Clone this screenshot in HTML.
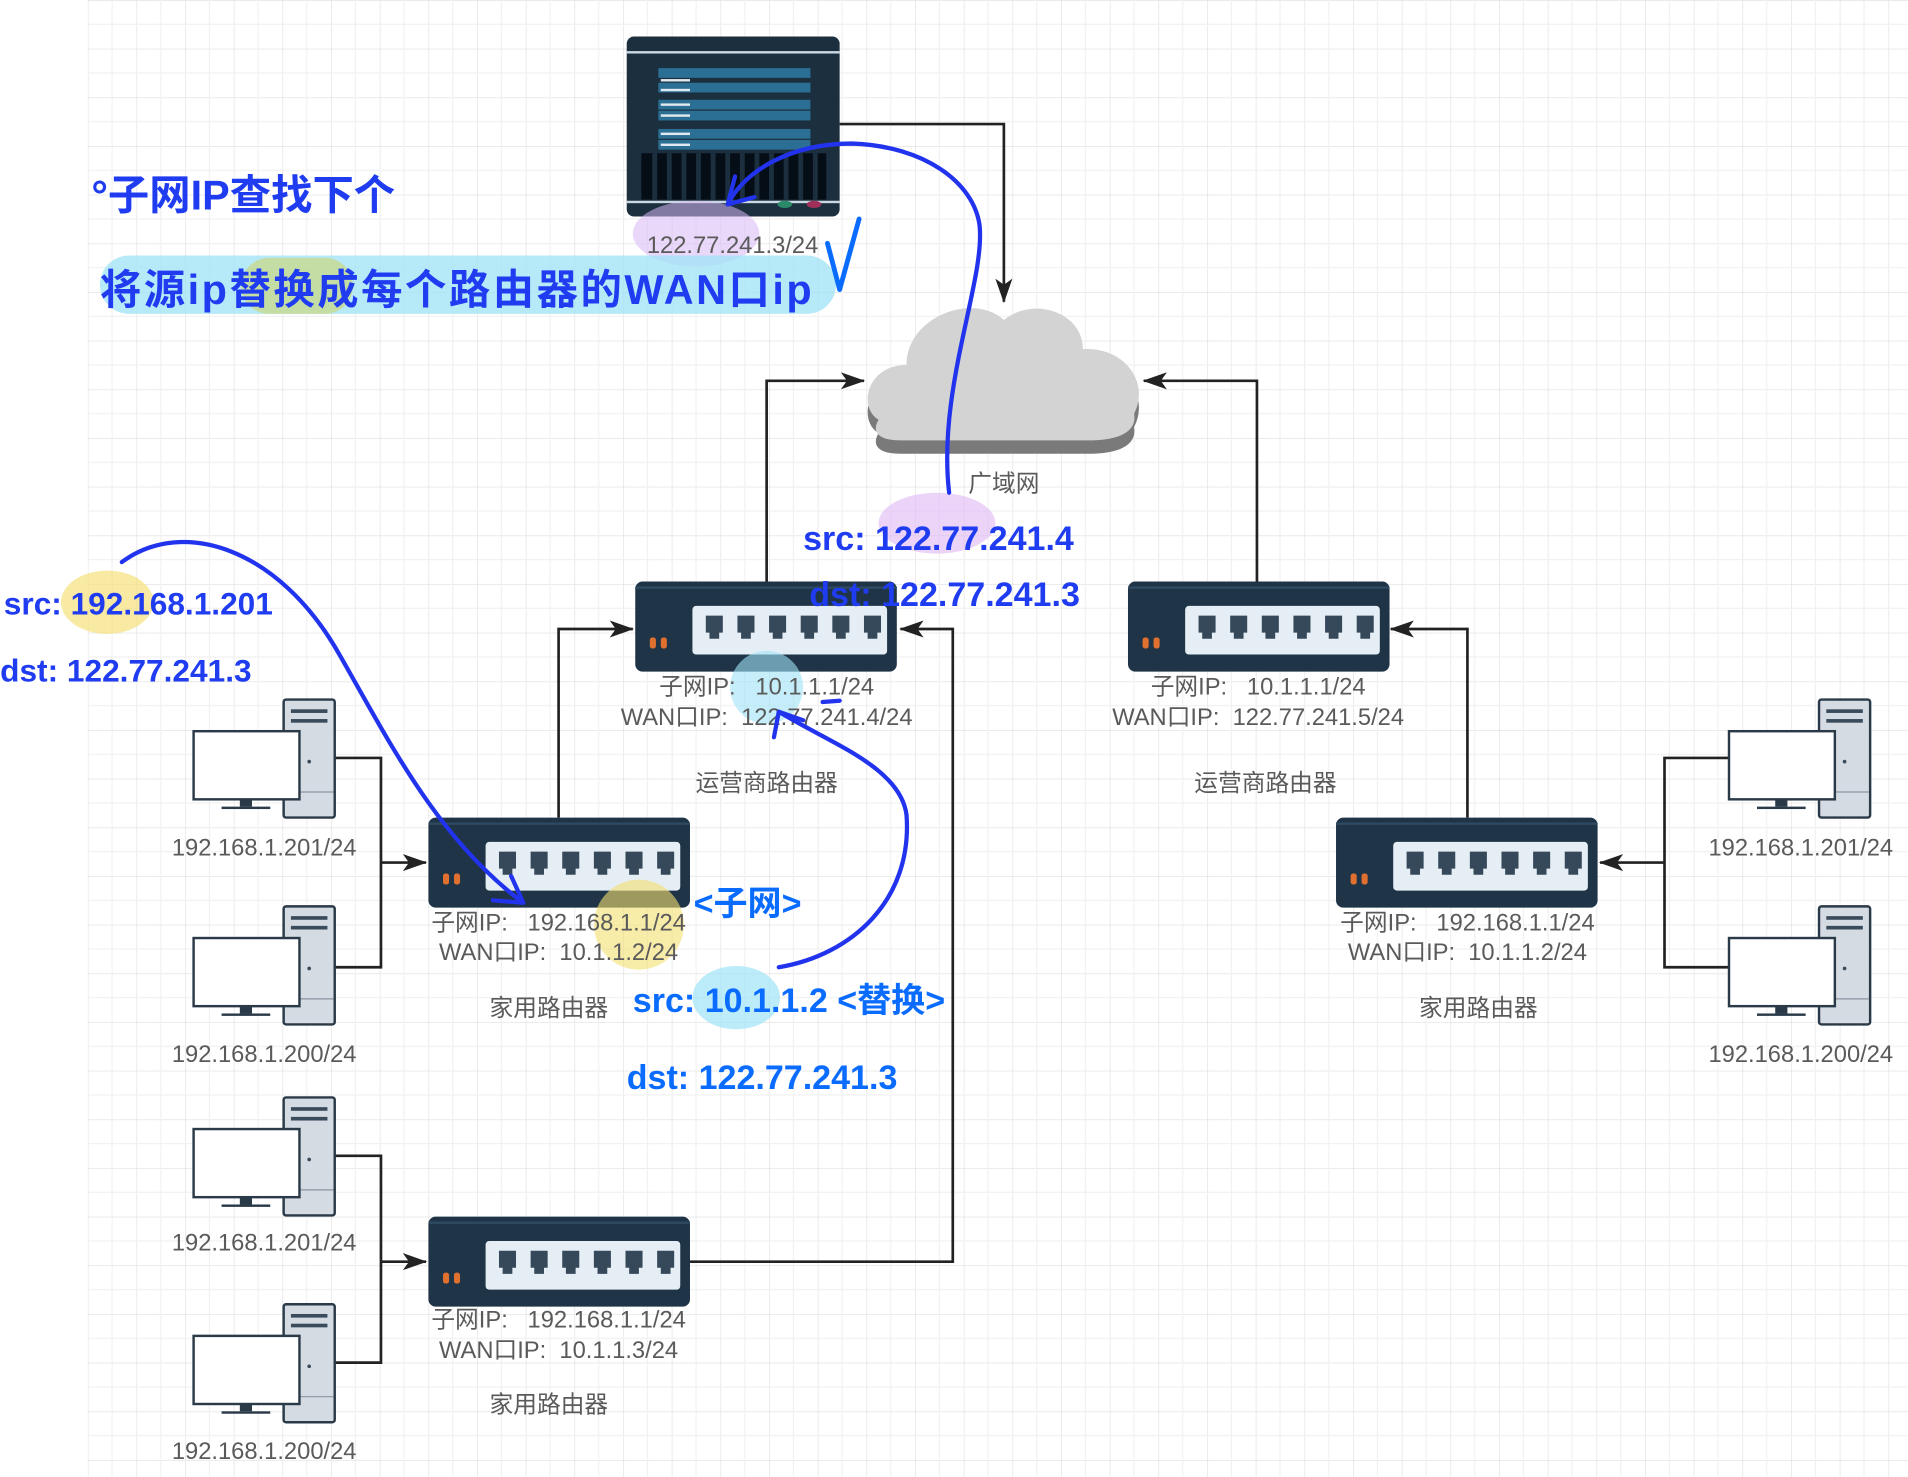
<!DOCTYPE html>
<html><head><meta charset="utf-8"><style>
html,body{margin:0;padding:0;background:#fff;}
svg{display:block;}
.lbl{font-family:"Liberation Sans","Noto Sans CJK SC",sans-serif;font-size:19.5px;fill:#5a5a5a;text-anchor:middle;white-space:pre;}
.hw{font-family:"Liberation Sans","Noto Sans CJK SC",sans-serif;fill:#1f3cf0;font-weight:bold;}
.hw2{font-family:"Liberation Sans","Noto Sans CJK SC",sans-serif;fill:#0a6cff;font-weight:bold;}
</style></head><body>
<svg width="1908" height="1477" viewBox="0 0 1568 1214" xmlns="http://www.w3.org/2000/svg">
<defs>
<pattern id="g" x="72" y="0" width="40" height="40" patternUnits="userSpaceOnUse">
<path d="M0 0H40M0 0V40" stroke="#e4e4e4" stroke-width="1.2" fill="none"/>
<path d="M20 0V40M0 20H40" stroke="#f1f1f1" stroke-width="1" fill="none"/>
</pattern>
<marker id="a2" viewBox="0 0 20 14" markerWidth="20" markerHeight="14" refX="19" refY="7" orient="auto" markerUnits="userSpaceOnUse"><path d="M0,0 L20,7 L0,14 L5,7 Z" fill="#222"/></marker>
<g id="router">
<rect x="0" y="0" width="215" height="74" rx="6" fill="#1f3447"/>
<rect x="0" y="4" width="215" height="2" fill="#2e4a60"/>
<rect x="47" y="20" width="160" height="40" rx="3" fill="#e6eef5"/>
<g fill="#36495a">
<path d="M58,28h14v14h-3v5h-8v-5h-3z"/><path d="M84,28h14v14h-3v5h-8v-5h-3z"/><path d="M110,28h14v14h-3v5h-8v-5h-3z"/><path d="M136,28h14v14h-3v5h-8v-5h-3z"/><path d="M162,28h14v14h-3v5h-8v-5h-3z"/><path d="M188,28h14v14h-3v5h-8v-5h-3z"/>
</g>
<rect x="12" y="46" width="5" height="9" rx="2" fill="#e07030"/><rect x="21" y="46" width="5" height="9" rx="2" fill="#e07030"/>
</g>
<g id="pc">
<rect x="233" y="575" width="42" height="97" rx="2" fill="#d4dbe2" stroke="#2b3a48" stroke-width="2"/>
<rect x="239" y="583" width="30" height="3" fill="#3a4b5c"/><rect x="239" y="591" width="30" height="3" fill="#3a4b5c"/>
<line x1="234" y1="651" x2="274" y2="651" stroke="#8a96a2"/>
<circle cx="254" cy="626" r="1.5" fill="#3a4b5c"/>
<rect x="159" y="601" width="87" height="56" fill="#fff" stroke="#2b3a48" stroke-width="2"/>
<rect x="197" y="657" width="10" height="6" fill="#2b3a48"/><rect x="182" y="663" width="40" height="2" fill="#2b3a48"/>
</g>
</defs>
<rect width="1568" height="1214" fill="#fff"/>
<rect x="72" y="0" width="1496" height="1214" fill="url(#g)"/>

<!-- server -->
<rect x="515" y="30" width="175" height="148" rx="6" fill="#1c2f3e"/>
<rect x="515" y="42" width="175" height="2" fill="#c9d8e2"/>
<g fill="#2c6f95"><rect x="541" y="56" width="125" height="8"/><rect x="541" y="68" width="125" height="8"/><rect x="541" y="82" width="125" height="8"/><rect x="541" y="91" width="125" height="8"/><rect x="541" y="106" width="125" height="8"/><rect x="541" y="115" width="125" height="8"/></g>
<g fill="#dfe9ef"><rect x="543" y="65" width="24" height="2"/><rect x="543" y="73" width="24" height="2"/><rect x="543" y="85" width="24" height="2"/><rect x="543" y="94" width="24" height="2"/><rect x="543" y="109" width="24" height="2"/><rect x="543" y="118" width="24" height="2"/></g>
<rect x="527" y="126" width="152" height="38" fill="#050d16"/>
<g stroke="#1c2f3e" stroke-width="4"><line x1="538" y1="126" x2="538" y2="164"/><line x1="550" y1="126" x2="550" y2="164"/><line x1="562" y1="126" x2="562" y2="164"/><line x1="574" y1="126" x2="574" y2="164"/><line x1="586" y1="126" x2="586" y2="164"/><line x1="598" y1="126" x2="598" y2="164"/><line x1="610" y1="126" x2="610" y2="164"/><line x1="622" y1="126" x2="622" y2="164"/><line x1="634" y1="126" x2="634" y2="164"/><line x1="646" y1="126" x2="646" y2="164"/><line x1="658" y1="126" x2="658" y2="164"/><line x1="670" y1="126" x2="670" y2="164"/></g>
<rect x="515" y="165" width="175" height="2" fill="#c9d8e2"/>
<ellipse cx="645" cy="168" rx="6" ry="3" fill="#2a8a6a"/>
<ellipse cx="669" cy="168" rx="6" ry="3" fill="#a0305a"/>
<ellipse cx="572" cy="192" rx="52" ry="27" fill="#d9b8f5" opacity="0.55"/>
<text class="lbl" x="602" y="208">122.77.241.3/24</text>

<!-- cloud -->
<g transform="translate(0,6)" fill="#7a7a7a">
<path d="M722,350 C705,340 712,305 745,305 C745,265 800,245 825,268 C850,248 890,262 890,292 C925,290 945,320 932,345 C935,362 915,367 895,367 L740,367 C722,367 716,360 722,350Z"/>
</g>
<path d="M722,345 C705,335 712,300 745,300 C745,260 800,240 825,263 C850,243 890,257 890,287 C925,285 945,315 932,340 C935,357 915,362 895,362 L740,362 C722,362 716,355 722,345Z" fill="#d3d3d3"/>
<text class="lbl" x="825" y="404">广域网</text>

<!-- connectors -->
<g fill="none" stroke="#222" stroke-width="2.2">
<path d="M690,102H825V248" marker-end="url(#a2)"/>
<path d="M630,478V313H710" marker-end="url(#a2)"/>
<path d="M1033,478V313H940" marker-end="url(#a2)"/>
<path d="M459,672V517H520" marker-end="url(#a2)"/>
<path d="M567,1037H783V517H740" marker-end="url(#a2)"/>
<path d="M1206,672V517H1143" marker-end="url(#a2)"/>
<path d="M275,623H313V795H275M313,709H350" marker-end="url(#a2)"/>
<path d="M275,950H313V1120H275M313,1037H350" marker-end="url(#a2)"/>
<path d="M1422,623H1368V795H1422M1368,709H1315" marker-end="url(#a2)"/>
</g>

<!-- routers -->
<use href="#router" x="522" y="478"/>
<use href="#router" x="927" y="478"/>
<use href="#router" x="352" y="672"/>
<use href="#router" x="352" y="1000"/>
<use href="#router" x="1098" y="672"/>

<!-- highlights -->
<circle cx="630" cy="565" r="30" fill="#9fe3f7" opacity="0.6"/>
<circle cx="525" cy="760" r="37" fill="#f4df70" opacity="0.6"/>

<text class="lbl" x="630" y="571">子网IP:   10.1.1.1/24</text>
<text class="lbl" x="630" y="596">WAN口IP:  122.77.241.4/24</text>
<text class="lbl" x="630" y="650">运营商路由器</text>
<text class="lbl" x="1034" y="571">子网IP:   10.1.1.1/24</text>
<text class="lbl" x="1034" y="596">WAN口IP:  122.77.241.5/24</text>
<text class="lbl" x="1040" y="650">运营商路由器</text>
<text class="lbl" x="459" y="765">子网IP:   192.168.1.1/24</text>
<text class="lbl" x="459" y="789">WAN口IP:  10.1.1.2/24</text>
<text class="lbl" x="451" y="835">家用路由器</text>
<text class="lbl" x="459" y="1091">子网IP:   192.168.1.1/24</text>
<text class="lbl" x="459" y="1116">WAN口IP:  10.1.1.3/24</text>
<text class="lbl" x="451" y="1161">家用路由器</text>
<text class="lbl" x="1206" y="765">子网IP:   192.168.1.1/24</text>
<text class="lbl" x="1206" y="789">WAN口IP:  10.1.1.2/24</text>
<text class="lbl" x="1215" y="835">家用路由器</text>

<!-- PCs -->
<use href="#pc"/>
<use href="#pc" y="170"/>
<use href="#pc" y="327"/>
<use href="#pc" y="497"/>
<use href="#pc" x="1262"/>
<use href="#pc" x="1262" y="170"/>
<text class="lbl" x="217" y="703">192.168.1.201/24</text>
<text class="lbl" x="217" y="873">192.168.1.200/24</text>
<text class="lbl" x="217" y="1028">192.168.1.201/24</text>
<text class="lbl" x="217" y="1199">192.168.1.200/24</text>
<text class="lbl" x="1480" y="703">192.168.1.201/24</text>
<text class="lbl" x="1480" y="873">192.168.1.200/24</text>

<!-- annotation highlights -->
<rect x="82" y="210" width="605" height="48" rx="24" fill="#9fe3f7" opacity="0.75"/>
<rect x="198" y="212" width="92" height="46" rx="23" fill="#c5dc9a" opacity="0.9"/>
<ellipse cx="770" cy="430" rx="48" ry="25" fill="#e0b8f5" opacity="0.6"/>
<ellipse cx="88" cy="495" rx="38" ry="26" fill="#f4df70" opacity="0.65"/>
<ellipse cx="605" cy="820" rx="36" ry="26" fill="#9fe3f7" opacity="0.7"/>

<!-- handwriting -->
<text class="hw" x="75" y="172" font-size="34">°子网IP查找下个</text>
<text class="hw" x="82" y="250" font-size="34" textLength="585">将源ip替换成每个路由器的WAN口ip</text>
<path d="M680,200 L690,238 L706,180" fill="none" stroke="#0a6cff" stroke-width="4" stroke-linecap="round" stroke-linejoin="round"/>
<text class="hw" x="660" y="452" font-size="28">src: 122.77.241.4</text>
<text class="hw" x="665" y="498" font-size="28">dst: 122.77.241.3</text>
<text class="hw" x="3" y="505" font-size="26">src: 192.168.1.201</text>
<text class="hw" x="0" y="560" font-size="26">dst: 122.77.241.3</text>
<text class="hw2" x="570" y="752" font-size="28">&lt;子网&gt;</text>
<text class="hw2" x="520" y="832" font-size="28">src: 10.1.1.2  &lt;替换&gt;</text>
<text class="hw2" x="515" y="895" font-size="28">dst: 122.77.241.3</text>

<!-- curves -->
<g fill="none" stroke="#2233ee" stroke-width="3.5" stroke-linecap="round">
<path d="M780,405 C770,320 810,230 805,185 C800,150 760,120 700,118 C650,118 612,140 598,168"/>
<path d="M598,168 L604,145 M598,168 L620,162"/>
<path d="M100,462 C150,425 230,450 280,540 C320,610 360,690 430,742"/>
<path d="M430,742 L420,720 M430,742 L405,740"/>
<path d="M640,795 C700,785 750,740 745,670 C740,630 680,610 640,585"/>
<path d="M640,585 L636,606 M640,585 L660,592"/>
<path d="M676,577 L690,576"/>
</g>
</svg>
</body></html>
